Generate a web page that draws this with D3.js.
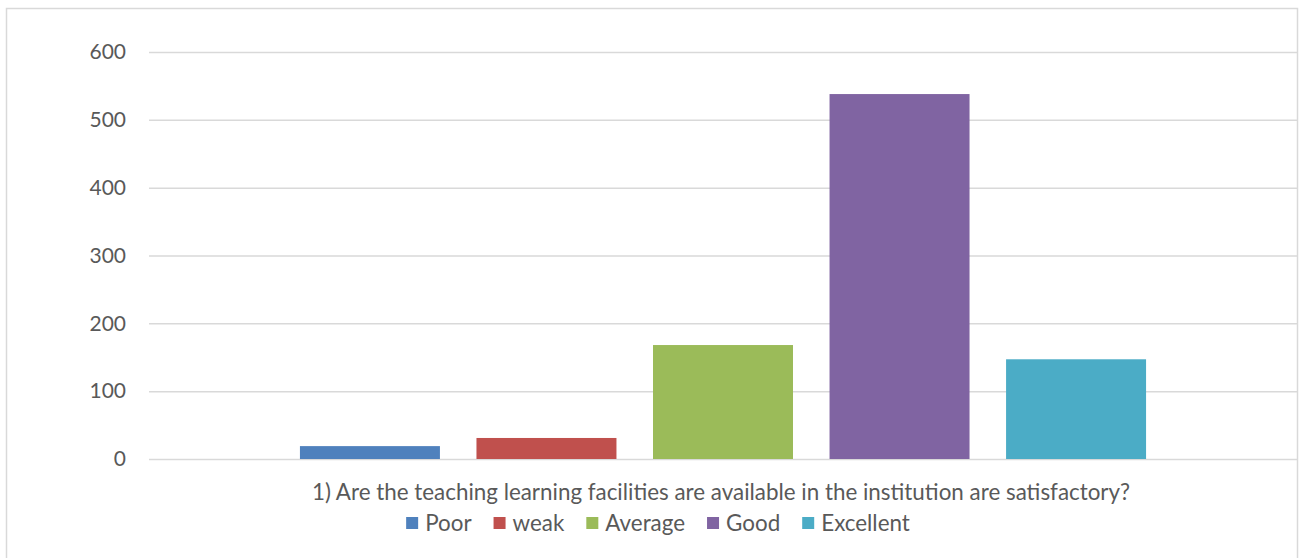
<!DOCTYPE html>
<html>
<head>
<meta charset="utf-8">
<script src="https://cdn.jsdelivr.net/npm/d3@7"></script>
<style>
  body { margin: 0; background: #fff; }
  svg { display: block; font-family: Lato, "Open Sans", sans-serif; }
</style>
</head>
<body>
<div class="chart"></div>
<script>
// data
const categoryLabel = "1) Are the teaching learning facilities are available in the institution are satisfactory?";
const seriesNames = ["Poor", "weak", "Average", "Good", "Excellent"];
const seriesValues = [19, 31, 168, 538, 147];
const seriesColors = ["#4F81BD", "#C0504D", "#9BBB59", "#8064A2", "#4BACC6"];
const yTicks = [0, 100, 200, 300, 400, 500, 600];

let svgWidth = 1300;
let svgHeight = 558;

const plot = {left: 149, right: 1297, top: 52, bottom: 459};

let svg = d3.select(".chart")
            .append("svg")
            .attr("width", svgWidth)
            .attr("height", svgHeight);

// chart area border
svg.append("rect")
   .attr("x", 6.5).attr("y", 8.5)
   .attr("width", 1291).attr("height", 560)
   .attr("fill", "none")
   .attr("stroke", "#d9d9d9")
   .attr("stroke-width", 1.5);

let yScale = d3.scaleLinear()
               .domain([0, 600])
               .range([plot.bottom, plot.top]);

let xScale = d3.scaleBand()
               .domain(seriesNames)
               .range([plot.left, plot.right])
               .paddingInner(0.207)
               .paddingOuter(0.855);

// gridlines + labels via axis
let leftAxis = d3.axisLeft(yScale)
                 .tickValues(yTicks)
                 .tickSize(-(plot.right - plot.left))
                 .tickPadding(23)
                 .tickFormat(d3.format("d"));

let yAxis = svg.append("g")
   .attr("transform", `translate(${plot.left},0)`)
   .call(leftAxis);

yAxis.select(".domain").remove();
yAxis.selectAll(".tick line")
     .attr("stroke", "#d9d9d9")
     .attr("stroke-width", 1.5);
yAxis.selectAll(".tick text")
     .attr("fill", "#595959")
     .attr("font-size", 21)
     .attr("font-family", "Lato, 'Open Sans', sans-serif");

// bars
svg.append("g")
   .selectAll("rect")
   .data(seriesNames)
   .enter().append("rect")
   .attr("x", d => xScale(d))
   .attr("y", (d, i) => yScale(seriesValues[i]))
   .attr("width", xScale.bandwidth())
   .attr("height", (d, i) => yScale(0) - yScale(seriesValues[i]))
   .attr("fill", (d, i) => seriesColors[i]);

// category label
svg.append("text")
   .attr("x", 721)
   .attr("y", 500)
   .attr("text-anchor", "middle")
   .attr("fill", "#595959")
   .attr("font-size", 22.4)
   .text(categoryLabel);

// legend
let legend = svg.append("g");
let items = legend.selectAll("g")
   .data(seriesNames)
   .enter().append("g");

items.append("rect")
     .attr("width", 12).attr("height", 12)
     .attr("y", 517)
     .attr("fill", (d, i) => seriesColors[i]);

items.append("text")
     .attr("y", 531)
     .attr("fill", "#595959")
     .attr("font-size", 22.4)
     .text(d => d);

// place items left to right, then centre the group
let gap = 22;
let xPos = 0;
items.each(function() {
  let g = d3.select(this);
  let w = g.select("text").node().getComputedTextLength();
  g.select("rect").attr("x", xPos);
  g.select("text").attr("x", xPos + 19);
  xPos += 19 + w + gap;
});
let legendWidth = xPos - gap;
legend.attr("transform", `translate(${658 - legendWidth / 2},0)`);
</script>
</body>
</html>
